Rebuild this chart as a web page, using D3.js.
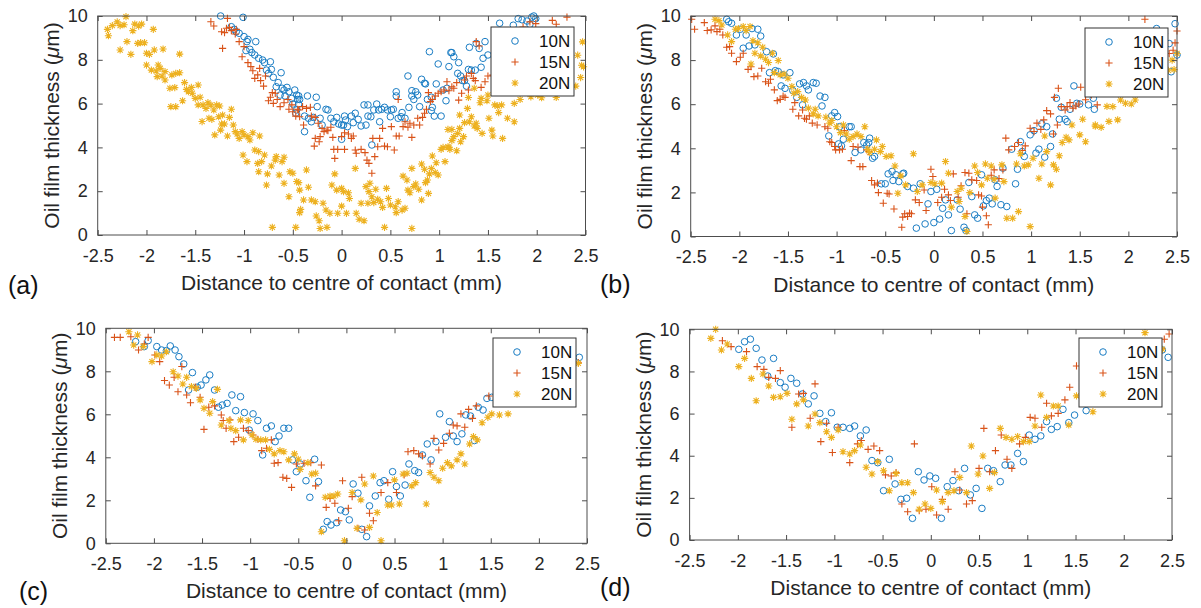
<!DOCTYPE html>
<html>
<head>
<meta charset="utf-8">
<script src="https://cdn.jsdelivr.net/npm/d3@7"></script>
<style>
body{margin:0;background:#fff}
svg text{font-family:"Liberation Sans",Arial,sans-serif}
</style>
</head>
<body>
<svg id="fig" width="1201" height="608"></svg>
<script>
const SERIES = ["10N","15N","20N"]
const XTICKS = [-2.5,-2,-1.5,-1,-0.5,0,0.5,1,1.5,2,2.5]
const YTICKS = [0,2,4,6,8,10]
const COLORS = ["#1a7dc4","#d95319","#edb120"]

// (a)
const a10 = [[-1.24,10.0],[-1.01,9.94],[-1.13,9.51],[-1.10,9.39],[-1.08,9.28],[-1.05,9.21],[-1.00,9.06],[-0.96,8.93],[-0.97,8.83],[-0.88,8.83],[-0.98,8.42],[-0.94,8.48],[-0.92,8.33],[-0.89,8.22],[-0.85,8.07],[-0.81,7.99],[-0.79,7.87],[-0.73,7.91],[-0.77,7.53],[-0.72,7.56],[-0.75,7.38],[-0.70,7.20],[-0.62,7.41],[-0.65,6.96],[-0.67,6.77],[-0.61,6.70],[-0.59,6.62],[-0.56,6.74],[-0.54,6.54],[-0.63,6.39],[-0.58,6.35],[-0.51,6.24],[-0.48,6.62],[-0.46,6.39],[-0.45,6.19],[-0.50,5.98],[-0.44,5.98],[-0.47,5.56],
  [-0.44,6.35],[-0.43,6.19],[-0.35,6.35],[-0.26,6.29],[-0.46,5.71],[-0.38,5.43],[-0.34,5.33],[-0.31,5.17],[-0.29,5.37],[-0.38,4.72],[-0.25,5.86],[-0.22,5.33],[-0.20,5.02],[-0.16,5.74],[-0.14,5.71],[-0.11,5.33],[-0.08,5.17],[-0.05,5.37],[-0.03,5.07],[0.0,5.02],[0.02,5.02],[0.04,5.25],[0.06,4.95],[0.0,4.37],[0.03,5.43],[0.10,5.43],[0.14,5.56],[0.12,5.13],[0.17,5.28],[0.20,4.98],[0.25,5.02],[0.27,5.43],[0.23,5.94],[0.27,5.94],[0.30,5.40],[0.31,4.11],[0.33,5.71],[0.36,5.98],[0.38,5.71],[0.39,5.17],[0.41,5.74],[0.44,5.83],[0.47,5.71],[0.50,5.40],[0.51,5.71],[0.53,5.74],[0.56,6.35],[0.58,5.33],[0.61,5.40],[0.62,5.59],[0.56,6.54],[0.65,5.33],[0.68,7.26],[0.69,5.83],[0.72,6.59],[0.72,6.35],[0.74,6.19],[0.76,6.54],[0.78,6.39],[0.80,5.86],[0.82,7.11],[0.85,6.93],[0.86,6.90],[0.90,8.37],[0.88,6.19],[0.92,6.29],[0.92,5.68],[0.93,5.83],[0.95,5.43],[0.97,6.90],[0.99,7.81],[1.02,5.43],[1.04,6.62],[1.07,6.13],[1.08,6.70],[1.10,7.69],[1.12,8.33],[1.13,8.33],[1.15,8.14],[1.20,7.87],[1.19,7.38],[1.22,7.26],[1.24,7.05],[1.26,7.05],[1.28,6.80],[1.30,7.56],[1.33,7.53],[1.37,7.53],[1.31,8.57],[1.38,8.75],[1.41,8.52],[1.45,8.07],[1.43,7.66],[1.47,8.83],[1.50,8.22],[1.62,9.67],[1.76,9.58],[1.81,9.88],[1.85,9.83],[1.90,9.77],[1.95,9.95],[1.99,9.88],[1.93,9.62],[1.97,10.0]]
const a15 = [[-1.34,9.74],[-1.31,9.54],[-1.23,9.28],[-1.20,9.24],[-1.18,9.44],[-1.15,9.48],[-1.13,9.33],[-1.09,9.18],[-1.08,9.39],[-1.17,9.89],[-1.22,8.52],[-1.05,8.83],[-1.02,8.14],[-1.00,8.60],[-0.96,7.87],[-0.93,7.69],[-0.91,7.50],[-0.89,7.15],[-0.86,7.31],[-0.84,7.61],[-0.83,7.05],[-0.80,6.80],[-0.78,7.26],[-0.75,6.13],[-0.73,6.29],[-0.71,6.50],[-0.70,6.01],[-0.68,6.47],[-0.66,6.19],[-0.63,5.86],[-0.59,6.04],[-0.55,6.19],[-0.54,5.74],[-0.51,5.94],[-0.50,5.63],[-0.47,5.43],[-0.44,5.71],
  [-0.45,5.74],[-0.40,5.86],[-0.36,5.78],[-0.32,5.83],[-0.43,5.40],[-0.39,5.02],[-0.31,5.43],[-0.27,5.37],[-0.24,5.10],[-0.20,4.87],[-0.18,4.72],[-0.15,4.79],[-0.14,4.76],[-0.11,4.92],[-0.09,4.46],[-0.27,4.41],[-0.22,4.49],[-0.28,4.06],[-0.23,4.26],[-0.08,3.91],[-0.04,3.91],[0.03,3.91],[-0.07,3.50],[0.0,4.49],[0.03,4.67],[0.07,4.61],[0.10,4.41],[0.12,4.52],[0.14,3.88],[0.15,3.73],[0.20,3.91],[0.24,3.76],[0.26,3.42],[0.28,3.27],[0.31,2.82],[0.32,4.41],[0.34,3.58],[0.37,4.03],[0.39,4.41],[0.42,4.87],[0.44,4.06],[0.47,4.03],[0.51,4.95],[0.54,3.88],[0.56,4.52],[0.59,4.52],[0.58,6.19],[0.63,4.95],[0.65,5.17],[0.68,4.92],[0.70,5.10],[0.72,4.46],[0.74,5.02],[0.78,5.33],[0.80,5.02],[0.83,5.37],[0.85,5.56],[0.87,5.74],[0.89,6.50],[0.91,6.09],[0.93,6.19],[0.96,6.35],[0.99,6.47],[1.02,6.54],[1.05,6.62],[1.08,7.00],[1.10,6.59],[1.13,6.77],[1.15,6.70],[1.18,6.96],[1.20,6.16],[1.23,6.47],[1.26,7.08],[1.28,7.26],[1.30,6.62],[1.33,7.38],[1.35,7.15],[1.37,7.05],[1.38,8.83],[1.41,8.63],[1.43,6.74],[1.47,7.00],[1.50,7.26],[1.55,7.30],[1.58,6.90],[2.20,9.62],[2.31,9.95],[2.16,9.80],[1.86,9.50],[1.93,9.73],[1.99,9.65]]
const a20 = [[-2.40,9.39],[-2.39,9.10],[-2.35,9.56],[-2.30,9.73],[-2.27,9.56],[-2.23,9.60],[-2.21,9.97],[-2.27,8.45],[-2.20,8.83],[-2.16,8.25],[-2.14,9.33],[-2.12,9.63],[-2.08,9.54],[-2.05,9.63],[-2.09,8.75],[-2.06,8.78],[-2.02,8.78],[-2.00,8.30],[-1.97,8.25],[-1.93,9.39],[-1.92,8.45],[-1.83,8.49],[-2.00,7.76],[-1.95,7.53],[-1.90,7.49],[-1.88,7.76],[-1.86,7.61],[-1.89,7.23],[-1.84,7.26],[-1.81,7.08],[-1.81,7.46],[-1.76,6.70],[-1.74,7.31],[-1.71,6.73],[-1.70,7.38],[-1.66,7.41],[-1.66,8.26],[-1.75,5.86],[-1.70,5.86],[-1.63,6.13],[-1.61,6.96],[-1.59,6.65],[-1.57,6.54],[-1.54,6.74],[-1.53,6.47],[-1.47,6.85],[-1.50,6.24],[-1.45,6.29],[-1.47,5.94],[-1.42,5.94],[-1.39,5.78],[-1.37,6.04],[-1.34,5.94],[-1.31,5.71],[-1.43,5.18],[-1.36,5.33],[-1.33,5.28],[-1.28,5.94],[-1.25,5.89],[-1.26,5.40],[-1.22,5.48],[-1.23,5.07],[-1.20,5.07],[-1.15,5.37],[-1.13,5.74],[-1.30,4.57],[-1.24,4.79],[-1.17,4.52],[-1.11,5.02],[-1.09,4.72],[-1.07,4.61],[-1.05,4.41],[-1.02,4.72],[-1.00,4.57],[-0.96,4.49],[-0.94,4.34],[-0.91,4.67],[-0.84,4.52],[-1.01,3.65],[-0.97,3.35],[-0.89,3.88],[-0.85,3.81],[-0.86,3.27],[-0.82,3.35],[-0.79,3.65],[-0.85,2.89],[-0.76,2.79],[-0.77,2.28],[-0.72,3.15],[-0.68,3.42],[-0.67,3.58],[-0.61,3.35],[-0.59,3.55],[-0.64,2.74],[-0.59,2.36],[-0.53,2.89],[-0.50,2.82],[-0.54,1.75],[-0.71,0.35],[-0.47,0.35],[-0.44,2.39],[-0.43,1.02],
  [-0.46,2.44],[-0.43,2.05],[-0.39,1.60],[-0.36,2.97],[-0.34,2.18],[-0.42,1.17],[-0.31,1.60],[-0.27,1.52],[-0.26,0.87],[-0.23,0.65],[-0.22,0.30],[-0.19,1.45],[-0.15,0.35],[-0.16,1.14],[-0.12,0.99],[-0.10,2.28],[-0.07,2.79],[-0.05,2.05],[-0.04,0.99],[0.0,2.13],[0.02,1.98],[0.07,1.93],[0.08,1.67],[0.0,1.32],[0.05,0.99],[0.14,3.04],[0.15,0.99],[0.20,1.45],[0.18,0.72],[0.23,0.65],[0.25,2.21],[0.27,1.45],[0.28,1.98],[0.31,1.75],[0.33,1.48],[0.29,2.36],[0.35,2.09],[0.37,1.63],[0.40,1.52],[0.42,1.26],[0.44,0.35],[0.46,2.13],[0.48,1.67],[0.50,1.37],[0.55,1.29],[0.56,1.02],[0.58,1.52],[0.62,1.14],[0.63,2.69],[0.65,1.22],[0.67,2.51],[0.68,2.05],[0.70,1.93],[0.72,0.30],[0.72,3.04],[0.74,2.21],[0.76,2.33],[0.79,2.09],[0.82,1.60],[0.82,3.24],[0.85,3.00],[0.86,2.39],[0.88,2.51],[0.90,2.79],[0.89,1.90],[0.92,3.04],[0.93,3.61],[0.96,2.85],[0.97,3.30],[0.99,2.74],[1.02,3.91],[1.04,4.00],[1.06,3.35],[1.09,4.03],[1.10,4.00],[1.11,3.91],[1.13,4.31],[1.15,4.49],[1.18,3.85],[1.19,4.64],[1.09,4.82],[1.13,4.82],[1.21,4.87],[1.22,4.26],[1.25,4.49],[1.21,5.48],[1.26,5.13],[1.29,5.78],[1.31,5.17],[1.33,5.40],[1.36,4.98],[1.38,5.10],[1.39,4.87],[1.42,6.04],[1.43,6.24],[1.44,4.64],[1.49,6.13],[1.51,5.33],[1.54,4.79],[1.55,4.52],[1.57,5.94],[1.60,5.89],[1.61,5.59],[1.64,5.94],[1.65,4.41],[1.70,5.33],[1.50,6.39],[1.30,6.28],[1.36,6.70],
  [1.77,6.01],[1.83,6.19],[1.94,6.31],[2.01,6.39],[2.05,6.27],[2.20,6.28],[2.26,6.59],[2.31,6.74],[2.40,6.80],[2.45,7.19],[2.42,8.21],[2.46,7.75],[2.48,7.68],[2.47,8.82],[1.77,5.17]]

// (b)
const b10 = [[-2.13,9.85],[-2.11,9.74],[-2.08,9.67],[-2.03,9.14],[-1.99,9.40],[-1.96,8.54],[-1.93,9.14],[-1.90,8.64],[-1.87,9.43],[-1.84,8.69],[-1.81,9.40],[-1.78,9.09],[-1.72,8.38],[-1.65,8.28],[-1.69,7.43],[-1.63,7.52],[-1.60,7.48],[-1.55,7.33],[-1.48,7.43],[-1.57,6.83],[-1.53,6.72],[-1.45,6.62],[-1.41,6.31],[-1.38,6.92],[-1.34,6.98],[-1.31,6.83],[-1.35,5.97],[-1.29,6.65],[-1.24,6.98],[-1.21,6.95],[-1.17,6.37],[-1.12,6.31],[-1.15,5.92],[-1.05,5.47],[-1.02,5.62],[-0.99,5.44],[-1.08,4.56],[-0.98,4.20],[-0.95,4.11],[-0.97,4.98],[-0.93,4.41],[-0.87,4.98],[-0.85,4.98],[-0.81,3.81],[-0.75,3.93],[-0.72,4.26],[-0.69,4.15],[-0.67,4.26],[-0.66,4.46],[-0.63,3.55],[-0.61,3.63],[-0.54,2.39],[-0.50,2.39],[-0.47,2.84],[-0.43,2.95],
  [-0.42,2.54],[-0.39,2.80],[-0.36,2.49],[-0.32,2.84],[-0.31,2.87],[-0.27,2.27],[-0.21,2.19],[-0.14,2.39],[-0.06,1.48],[-0.03,2.04],[0.03,2.14],[-0.18,0.38],[-0.09,0.57],[0.0,0.63],[0.06,0.79],[0.09,1.28],[0.12,1.66],[0.15,0.98],[0.18,0.27],[0.24,1.66],[0.27,1.24],[0.31,0.42],[0.33,0.27],[0.36,2.45],[0.39,1.81],[0.42,0.98],[0.45,0.83],[0.49,2.80],[0.51,1.39],[0.54,1.63],[0.57,1.74],[0.60,1.48],[0.63,2.57],[0.65,2.27],[0.69,1.44],[0.71,3.10],[0.75,1.36],[0.84,2.39],[0.80,3.96],[0.86,3.05],[0.89,4.30],[0.91,3.85],[0.93,3.63],[0.99,4.61],[1.03,4.80],[1.05,3.78],[1.08,3.96],[1.14,3.60],[1.16,4.98],[1.20,4.08],[1.22,4.65],[1.11,5.11],[1.26,6.27],[1.29,5.32],[1.31,5.86],[1.35,5.32],[1.37,5.21],[1.44,6.83],[1.40,5.77],[1.47,6.04],[1.50,6.01],[1.59,5.97],[1.65,5.77],[1.64,6.27],[2.29,9.43],[2.37,9.20],[2.42,8.75],[2.44,7.47],[2.48,9.65],[2.50,8.23]]
const b15 = [[-2.49,9.85],[-2.46,9.40],[-2.36,9.70],[-2.33,9.34],[-2.29,9.37],[-2.25,9.55],[-2.23,9.29],[-2.20,9.40],[-2.17,9.14],[-2.13,8.58],[-2.10,8.61],[-2.08,8.31],[-2.03,7.93],[-1.99,8.13],[-1.96,8.31],[-1.91,7.58],[-1.88,7.70],[-1.85,7.25],[-1.81,7.28],[-1.77,7.63],[-1.73,7.02],[-1.70,6.95],[-1.68,7.13],[-1.64,6.65],[-1.61,6.16],[-1.58,6.22],[-1.55,6.37],[-1.53,6.31],[-1.45,5.77],[-1.43,6.07],[-1.39,5.47],[-1.35,5.74],[-1.33,5.36],[-1.31,5.32],[-1.28,5.47],[-1.25,5.14],[-1.20,5.06],[-1.12,4.98],[-1.09,4.91],[-1.07,4.30],[-1.05,4.26],[-1.02,4.08],[-1.01,3.93],[-0.97,3.93],[-0.94,3.96],[-0.92,4.80],[-0.85,3.44],[-0.83,4.08],[-0.78,4.05],[-0.76,3.17],[-0.73,3.17],[-0.69,3.93],[-0.67,3.85],[-0.64,2.54],[-0.61,2.34],[-0.58,2.42],[-0.57,1.99],[-0.52,1.51],[-0.48,1.96],
  [-0.46,1.93],[-0.41,1.25],[-0.32,0.88],[-0.30,1.03],[-0.27,0.91],[-0.25,1.06],[-0.23,1.03],[-0.33,0.42],[-0.19,1.66],[-0.15,1.54],[-0.08,1.18],[-0.10,2.11],[-0.03,3.05],[-0.01,2.72],[0.04,1.54],[0.08,1.78],[0.11,2.14],[0.15,1.89],[0.17,1.63],[0.20,2.84],[0.25,1.78],[0.28,2.30],[0.32,2.90],[0.34,1.03],[0.36,2.87],[0.39,2.57],[0.44,2.54],[0.49,1.84],[0.50,1.33],[0.46,1.89],[0.56,0.53],[0.54,0.94],[0.59,2.78],[0.62,3.02],[0.67,2.63],[0.71,3.02],[0.74,4.46],[0.77,3.93],[0.83,4.08],[0.87,4.26],[0.91,3.90],[0.94,4.11],[0.99,4.91],[1.03,4.76],[1.06,5.14],[1.10,4.86],[1.13,5.29],[1.16,5.71],[1.20,5.56],[1.23,4.65],[1.24,6.31],[1.27,5.06],[1.28,6.72],[1.31,5.89],[1.35,5.74],[1.37,5.89],[1.40,6.07],[1.43,5.82],[1.46,5.92],[1.49,6.01],[1.51,6.77],[1.56,6.20],[1.62,6.42],[1.68,5.97],[2.17,9.85],[2.42,8.30],[2.48,8.78],[2.50,9.32],[2.46,8.45]]
const b20 = [[-2.25,9.85],[-2.21,9.79],[-2.18,9.59],[-2.12,9.14],[-2.08,8.84],[-2.04,9.40],[-2.01,9.43],[-1.96,9.52],[-1.93,9.34],[-1.89,9.52],[-1.86,8.88],[-1.81,8.79],[-1.84,8.31],[-1.88,7.82],[-1.78,8.19],[-1.76,8.58],[-1.73,8.04],[-1.70,7.89],[-1.66,8.31],[-1.60,7.98],[-1.58,7.33],[-1.64,7.43],[-1.54,7.37],[-1.50,7.18],[-1.46,6.80],[-1.44,6.50],[-1.40,6.57],[-1.36,6.31],[-1.32,6.19],[-1.29,5.82],[-1.24,5.56],[-1.22,5.77],[-1.19,5.47],[-1.11,5.41],[-1.07,5.14],[-1.05,5.26],[-1.00,4.98],[-0.96,4.71],[-0.93,5.06],[-0.90,4.65],[-0.87,4.41],[-0.83,4.53],[-0.79,4.65],[-0.75,4.53],[-0.71,4.98],[-0.68,3.96],[-0.66,3.81],[-0.61,3.96],[-0.59,4.38],[-0.55,3.85],[-0.53,4.08],[-0.49,3.63],[-0.44,3.66],
  [-0.40,3.20],[-0.37,1.96],[-0.34,2.75],[-0.29,2.34],[-0.21,3.75],[-0.17,2.04],[-0.12,2.34],[-0.03,2.45],[0.01,2.39],[0.08,2.42],[0.12,3.40],[0.15,2.87],[0.18,1.33],[0.24,2.04],[0.26,1.59],[0.28,2.19],[0.32,0.91],[0.34,0.23],[0.37,1.99],[0.42,3.20],[0.45,2.90],[0.49,2.34],[0.53,3.29],[0.55,2.64],[0.59,3.20],[0.62,2.60],[0.63,1.74],[0.70,3.25],[0.72,2.49],[0.75,0.83],[0.81,0.83],[0.85,3.29],[0.87,1.13],[0.89,3.75],[0.93,3.20],[0.97,3.25],[0.99,0.45],[1.02,3.55],[1.08,2.64],[1.11,3.29],[1.14,4.56],[1.16,3.85],[1.20,2.34],[1.23,3.25],[1.26,3.05],[1.29,3.66],[1.32,4.26],[1.36,4.50],[1.39,4.38],[1.42,5.06],[1.50,4.61],[1.53,5.32],[1.56,4.30],[1.66,5.06],[1.66,5.00],[1.72,4.95],[1.78,5.90],[1.80,5.22],[1.89,5.29],[1.84,5.89],[1.92,6.19],[1.97,6.04],[2.03,6.01],[2.07,6.19],[2.41,7.54],[2.47,7.57],[2.45,8.00],[2.50,8.30],[2.35,7.60]]

// (c)
const c10 = [[-2.19,9.38],[-2.10,9.15],[-2.06,9.43],[-1.97,9.15],[-1.92,8.99],[-1.87,8.96],[-1.83,9.18],[-1.78,8.99],[-1.74,8.68],[-1.69,8.34],[-1.64,7.13],[-1.60,7.94],[-1.55,7.26],[-1.51,7.36],[-1.46,7.60],[-1.42,7.83],[-1.37,7.13],[-1.33,6.33],[-1.29,6.43],[-1.24,6.51],[-1.19,6.90],[-1.15,6.17],[-1.10,6.82],[-1.06,6.08],[-0.97,6.02],[-1.01,5.27],[-0.92,5.71],[-0.87,4.11],[-0.83,5.35],[-0.78,5.46],[-0.74,4.73],[-0.70,4.99],[-0.65,5.35],[-0.60,5.35],[-0.56,3.88],[-0.52,3.33],[-0.48,3.69],[-0.42,2.91],[-0.38,2.14],[-0.33,3.91],[-0.29,2.87],[-0.24,0.65],[-0.20,1.01],[-0.16,0.85],[-0.10,0.96],[-0.06,1.55],[-0.01,1.47],[0.03,1.09],[0.07,2.76],[0.12,2.33],[0.16,0.65],[0.21,0.31],[0.24,1.74],[0.30,2.20],[0.35,2.82],[0.39,2.91],[0.44,2.05],[0.48,3.33],[0.52,2.64],[0.56,2.20],[0.61,2.71],[0.65,3.69],[0.71,3.38],[0.75,3.29],[0.79,4.11],[0.84,4.62],[0.88,3.88],[0.93,4.73],[0.97,6.02],[1.03,4.93],[1.07,5.66],[1.11,4.99],[1.15,4.73],[1.20,5.09],[1.24,5.97],[1.29,5.92],[1.33,4.78],[1.37,6.33],[1.42,6.20],[1.46,6.74],[1.51,6.79],[2.42,8.65]]
const c15 = [[-2.41,9.58],[-2.35,9.58],[-2.24,9.61],[-2.16,8.99],[-2.10,9.27],[-2.06,9.58],[-1.99,8.76],[-1.94,8.45],[-1.89,7.57],[-1.84,7.36],[-1.79,7.72],[-1.75,7.05],[-1.71,8.22],[-1.66,6.90],[-1.62,6.54],[-1.57,7.26],[-1.52,6.79],[-1.48,5.30],[-1.43,6.33],[-1.37,6.39],[-1.30,5.97],[-1.28,5.71],[-1.25,5.35],[-1.21,5.74],[-1.17,4.73],[-1.12,4.93],[-1.07,5.35],[-1.02,5.24],[-0.97,5.04],[-0.92,4.84],[-0.88,4.31],[-0.83,4.42],[-0.78,4.81],[-0.75,3.72],[-0.71,3.75],[-0.66,3.07],[-0.62,3.02],[-0.57,2.60],[-0.52,3.69],[-0.44,3.72],[-0.37,3.75],[-0.32,2.67],[-0.26,3.64],[-0.21,1.67],[-0.17,2.09],[-0.12,1.86],[-0.08,1.05],[-0.04,2.91],[0.02,1.63],[0.06,2.17],[0.12,0.70],[0.16,3.07],[0.19,0.62],[0.24,1.40],[0.28,1.05],[0.36,2.36],[0.43,2.82],[0.52,2.36],[0.60,3.18],[0.64,4.26],[0.70,4.31],[0.75,4.16],[0.79,4.06],[0.87,3.69],[0.91,4.88],[0.96,4.34],[1.01,4.65],[1.07,5.12],[1.11,5.50],[1.15,5.46],[1.19,6.02],[1.23,5.40],[1.27,6.23],[1.31,5.81],[1.35,6.39],[1.48,6.85],[2.41,8.40]]
const c20 = [[-2.26,9.84],[-2.21,9.22],[-2.17,9.69],[-2.11,9.15],[-2.02,8.45],[-1.97,8.76],[-1.92,8.71],[-1.87,8.91],[-1.80,7.98],[-1.75,7.78],[-1.70,7.41],[-1.66,7.72],[-1.61,7.29],[-1.56,7.21],[-1.52,6.67],[-1.48,6.28],[-1.42,6.05],[-1.39,6.59],[-1.34,7.16],[-1.30,5.50],[-1.22,5.71],[-1.20,5.35],[-1.15,5.24],[-1.10,5.74],[-1.07,4.81],[-1.02,5.71],[-0.98,5.04],[-0.94,4.84],[-0.89,4.81],[-0.84,4.81],[-0.80,4.37],[-0.75,4.16],[-0.69,4.31],[-0.65,4.26],[-0.60,3.88],[-0.54,4.16],[-0.50,3.91],[-0.48,3.44],[-0.40,3.75],[-0.36,3.22],[-0.32,3.26],[-0.26,0.54],[-0.22,2.14],[-0.17,2.20],[-0.13,2.20],[-0.09,2.29],[-0.02,0.12],[0.06,2.36],[0.11,0.70],[0.15,2.02],[0.19,2.76],[0.24,0.74],[0.28,3.13],[0.32,1.43],[0.36,0.12],[0.43,1.78],[0.47,1.78],[0.50,2.95],[0.55,1.83],[0.59,3.22],[0.63,3.26],[0.68,2.67],[0.72,2.82],[0.83,1.83],[0.87,3.29],[0.91,3.07],[0.96,2.91],[1.00,3.49],[1.05,3.75],[1.09,3.60],[1.15,3.88],[1.19,4.16],[1.23,3.69],[1.28,4.62],[1.32,4.96],[1.36,4.81],[1.41,5.61],[1.47,5.86],[1.51,6.02],[1.59,5.97],[1.68,6.02],[2.41,8.37]]

// (d)
const d10 = [[-1.99,9.05],[-1.93,9.41],[-1.87,9.53],[-1.81,9.10],[-1.75,8.54],[-1.69,7.78],[-1.63,8.62],[-1.56,7.47],[-1.51,7.25],[-1.45,7.67],[-1.39,7.44],[-1.33,6.93],[-1.27,6.46],[-1.21,6.84],[-1.15,6.01],[-1.09,5.62],[-1.03,6.04],[-0.97,5.35],[-0.91,5.35],[-0.84,5.30],[-0.79,5.41],[-0.73,4.94],[-0.67,5.22],[-0.61,3.77],[-0.55,3.67],[-0.49,2.34],[-0.43,3.83],[-0.37,2.66],[-0.31,1.93],[-0.25,1.98],[-0.19,1.03],[-0.13,3.24],[-0.07,2.85],[-0.01,3.04],[0.05,2.93],[0.11,1.03],[0.17,2.53],[0.23,2.82],[0.29,2.34],[0.35,3.40],[0.41,2.14],[0.47,2.45],[0.53,1.50],[0.59,3.40],[0.65,3.29],[0.72,2.77],[0.77,3.56],[0.83,3.56],[0.90,4.11],[0.96,3.72],[1.02,4.98],[1.08,4.78],[1.14,4.94],[1.20,5.62],[1.25,5.25],[1.31,5.38],[1.37,6.20],[1.43,5.57],[1.49,5.93],[1.61,6.14],[2.40,9.02],[2.46,8.67]]
const d15 = [[-2.16,9.46],[-2.07,9.18],[-1.91,8.94],[-1.80,8.23],[-1.73,8.10],[-1.68,7.72],[-1.61,7.67],[-1.56,8.04],[-1.44,5.35],[-1.37,6.93],[-1.32,6.96],[-1.25,5.78],[-1.20,7.41],[-1.14,4.67],[-1.08,5.54],[-1.02,4.15],[-0.96,5.35],[-0.84,3.67],[-0.76,4.56],[-0.72,4.72],[-0.65,4.30],[-0.59,4.46],[-0.53,4.24],[-0.47,3.09],[-0.41,3.04],[-0.36,3.20],[-0.30,1.71],[-0.24,1.34],[-0.17,4.56],[-0.12,1.39],[-0.05,1.46],[0.01,2.53],[0.06,1.19],[0.12,1.93],[0.18,1.46],[0.25,3.24],[0.30,2.37],[0.37,1.71],[0.43,1.87],[0.50,3.40],[0.55,5.30],[0.61,3.24],[0.67,4.24],[0.73,4.98],[0.79,3.83],[0.84,3.40],[0.92,4.56],[0.98,4.87],[1.03,5.82],[1.08,5.78],[1.15,5.35],[1.20,6.49],[1.25,5.89],[1.32,6.01],[1.39,6.65],[1.44,7.25],[1.51,8.26],[2.39,9.10],[2.42,9.53],[2.47,9.78]]
const d20 = [[-2.28,9.57],[-2.23,10.0],[-2.17,9.02],[-2.11,9.30],[-1.99,8.23],[-1.93,8.62],[-1.86,7.67],[-1.81,6.61],[-1.74,7.88],[-1.68,7.31],[-1.63,6.77],[-1.56,6.80],[-1.49,6.96],[-1.44,5.73],[-1.39,6.46],[-1.32,6.65],[-1.27,5.41],[-1.20,5.98],[-1.15,5.57],[-1.08,5.14],[-1.03,4.87],[-0.96,5.22],[-0.91,4.19],[-0.84,4.08],[-0.79,4.24],[-0.73,4.51],[-0.67,3.45],[-0.61,3.13],[-0.55,3.72],[-0.49,3.29],[-0.43,2.34],[-0.36,3.16],[-0.30,2.72],[-0.24,2.72],[-0.18,2.25],[-0.12,1.46],[-0.06,1.71],[0.0,1.50],[0.06,2.37],[0.12,1.82],[0.18,2.25],[0.24,2.34],[0.30,2.97],[0.37,2.25],[0.42,4.46],[0.49,3.13],[0.54,3.99],[0.61,2.45],[0.66,3.20],[0.72,5.30],[0.78,4.87],[0.84,4.78],[0.90,4.91],[0.96,4.67],[1.02,4.67],[1.08,5.41],[1.14,6.88],[1.20,5.82],[1.27,6.36],[1.32,6.36],[1.43,5.46],[1.51,6.84],[1.68,6.09],[2.22,9.84],[2.40,9.05]]

const PANELS = [
  {label:"(a)", lx:8, ly:294, x0:97.7, x1:585.5, y0:16, y1:235, data:[a10,a15,a20], leg:[491,27]},
  {label:"(b)", lx:600, ly:293, x0:690.7, x1:1177, y0:16, y1:236.5, data:[b10,b15,b20], leg:[1085,28]},
  {label:"(c)", lx:19, ly:600, x0:105.8, x1:587, y0:328.3, y1:543.3, data:[c10,c15,c20], leg:[493,338]},
  {label:"(d)", lx:600, ly:596, x0:689.6, x1:1172, y0:329.3, y1:540, data:[d10,d15,d20], leg:[1079,338]}
]

const AXIS = "#4d4d4d", INK = "#262626"
const MARK = [
  null,
  "M-3.6,0H3.6M0,-3.6V3.6",
  "M-3.6,0H3.6M0,-3.6V3.6M-2.6,-2.6L2.6,2.6M-2.6,2.6L2.6,-2.6"
]

function marker(sel, i) {
  if (i === 0) {
    sel.append("circle").attr("r", 3.3).attr("fill", "none")
      .attr("stroke", COLORS[0]).attr("stroke-width", 1)
  } else {
    sel.append("path").attr("d", MARK[i]).attr("fill", "none")
      .attr("stroke", COLORS[i]).attr("stroke-width", 1.1)
  }
}

const svg = d3.select("#fig")

PANELS.forEach(p => {
  const g = svg.append("g")
  const x = d3.scaleLinear().domain([-2.5, 2.5]).range([p.x0, p.x1])
  const y = d3.scaleLinear().domain([0, 10]).range([p.y1, p.y0])

  // points: 10N first, 20N on top
  p.data.forEach((pts, i) => {
    g.append("g").selectAll("g")
      .data(pts.filter(d => d[0] >= -2.5 && d[0] <= 2.5 && d[1] >= 0 && d[1] <= 10))
      .join("g")
      .attr("transform", d => `translate(${x(d[0])},${y(d[1])})`)
      .each(function() { marker(d3.select(this), i) })
  })

  // axes, ticks pointing inside
  const fmt = d => String(d)
  const bottom = g.append("g").attr("transform", `translate(0,${p.y1})`)
    .call(d3.axisBottom(x).tickValues(XTICKS).tickFormat(fmt).tickSizeInner(-5).tickSizeOuter(0).tickPadding(14))
  const left = g.append("g").attr("transform", `translate(${p.x0},0)`)
    .call(d3.axisLeft(y).tickValues(YTICKS).tickFormat(fmt).tickSizeInner(-5).tickSizeOuter(0).tickPadding(10))
  const top = g.append("g").attr("transform", `translate(0,${p.y0})`)
    .call(d3.axisTop(x).tickValues(XTICKS).tickFormat("").tickSizeInner(-5).tickSizeOuter(0))
  const right = g.append("g").attr("transform", `translate(${p.x1},0)`)
    .call(d3.axisRight(y).tickValues(YTICKS).tickFormat("").tickSizeInner(-5).tickSizeOuter(0))
  ;[bottom, left, top, right].forEach(a => {
    a.select(".domain").remove()
    a.selectAll("line").attr("stroke", AXIS)
    a.attr("font-size", 18).attr("font-family", null)
    a.selectAll("text").attr("fill", INK)
  })
  g.append("rect").attr("x", p.x0).attr("y", p.y0)
    .attr("width", p.x1 - p.x0).attr("height", p.y1 - p.y0)
    .attr("fill", "none").attr("stroke", AXIS).attr("stroke-width", 1)

  // titles
  g.append("text").attr("x", (p.x0 + p.x1) / 2).attr("y", p.y1 + 55)
    .attr("text-anchor", "middle").attr("font-size", 21).attr("fill", INK)
    .text("Distance to centre of contact (mm)")
  const yt = g.append("text")
    .attr("transform", `translate(${p.x0 - 39},${(p.y0 + p.y1) / 2}) rotate(-90)`)
    .attr("text-anchor", "middle").attr("font-size", 21).attr("fill", INK)
  yt.append("tspan").text("Oil film thickness (")
  yt.append("tspan").attr("font-style", "italic").text("\u03bc")
  yt.append("tspan").text("m)")

  g.append("text").attr("x", p.lx).attr("y", p.ly)
    .attr("font-size", 25).attr("fill", "#111").text(p.label)

  // legend
  const [lx, ly] = p.leg
  const leg = g.append("g").attr("transform", `translate(${lx},${ly})`)
  leg.append("rect").attr("width", 83).attr("height", 69)
    .attr("fill", "#fff").attr("stroke", "#333").attr("stroke-width", 1)
  SERIES.forEach((s, i) => {
    const row = leg.append("g").attr("transform", `translate(0,${14 + i * 21})`)
    marker(row.append("g").attr("transform", "translate(24,0)"), i)
    row.append("text").attr("x", 48).attr("dy", "0.35em")
      .attr("font-size", 17).attr("fill", "#111").text(s)
  })
})
</script>
</body>
</html>
